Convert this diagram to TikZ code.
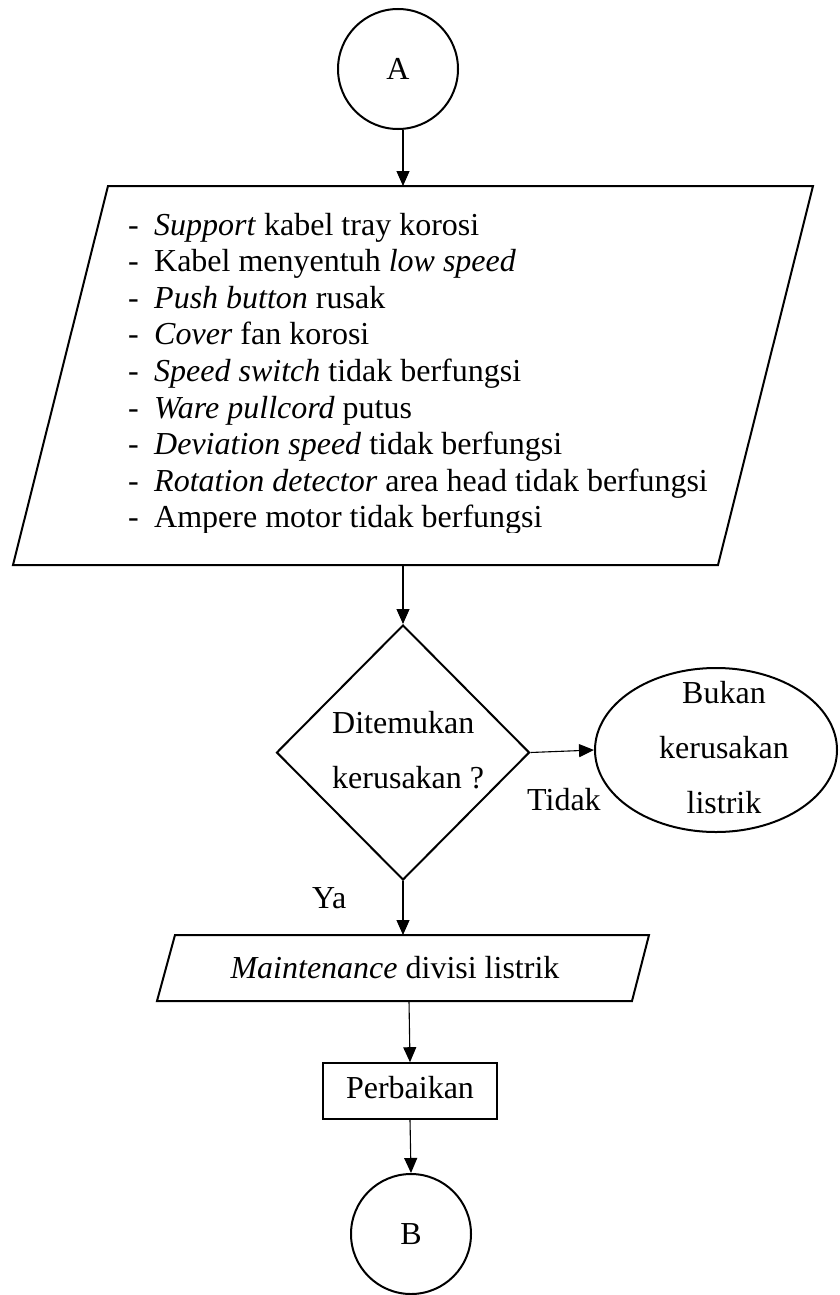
\documentclass[tikz,border=0pt]{standalone}
\usepackage{fontspec}
\setmainfont{Liberation Serif}
\usetikzlibrary{shapes.geometric,arrows.meta}
\newcommand\itemdash{\makebox[26pt][l]{-}}
\begin{document}
\begin{tikzpicture}[x=1pt,y=-1pt,
  shape line/.style={draw=black,line width=2pt,line join=miter},
  flow/.style={draw=black,line width=1.1pt,-{Triangle[length=15pt,width=13pt]}},
  txt/.style={inner sep=0pt,font=\fontsize{32}{36.6}\selectfont},
  connector/.style={circle,shape line,minimum size=120pt,inner sep=0pt,
    font=\fontsize{32}{36.6}\selectfont},
]
\useasboundingbox (0,0) rectangle (839,1295);

% off-page connector A
\node[connector] (A) at (398,69) {A};

% list of faults (data parallelogram)
\coordinate (f-tl) at (108,186);
\coordinate (f-tr) at (813,186);
\coordinate (f-br) at (718,565);
\coordinate (f-bl) at (13,565);
\coordinate (f-in) at (403,186);
\coordinate (f-out) at (403,565);
\draw[shape line] (f-tl) -- (f-tr) -- (f-br) -- (f-bl) -- cycle;

\begin{scope}
  \clip (0,186) rectangle (839,532);
  \node[txt,anchor=base west] (l1) at (128,235.0) {\itemdash\textit{Support} kabel tray korosi};
  \node[txt,anchor=base west] (l2) at (128,271.6) {\itemdash Kabel menyentuh \textit{low speed}};
  \node[txt,anchor=base west] (l3) at (128,308.2) {\itemdash\textit{Push button} rusak};
  \node[txt,anchor=base west] (l4) at (128,344.8) {\itemdash\textit{Cover} fan korosi};
  \node[txt,anchor=base west] (l5) at (128,381.4) {\itemdash\textit{Speed switch} tidak berfungsi};
  \node[txt,anchor=base west] (l6) at (128,418.0) {\itemdash\textit{Ware pullcord} putus};
  \node[txt,anchor=base west] (l7) at (128,454.6) {\itemdash\textit{Deviation speed} tidak berfungsi};
  \node[txt,anchor=base west] (l8) at (128,491.2) {\itemdash\textit{Rotation detector} area head tidak berfungsi};
  \node[txt,anchor=base west] (l9) at (128,527.8) {\itemdash Ampere motor tidak berfungsi};
\end{scope}

% decision
\node[diamond,shape line,minimum width=253pt,minimum height=255pt,inner sep=0pt] (dec) at (403,752.5) {};
\node[txt,anchor=base west] (dq1) at (332,733) {Ditemukan};
\node[txt,anchor=base west] (dq2) at (332,788) {kerusakan ?};

% not electrical
\node[ellipse,shape line,minimum width=242pt,minimum height=164pt,inner sep=0pt] (notel) at (716,750) {};
\node[txt,anchor=base] (ne1) at (724,703) {Bukan};
\node[txt,anchor=base] (ne2) at (724,758) {kerusakan};
\node[txt,anchor=base] (ne3) at (724,813) {listrik};

\node[txt,anchor=base west] (no) at (527,810) {Tidak};
\node[txt,anchor=base west] (yes) at (312,908) {Ya};

% maintenance (data parallelogram)
\coordinate (m-tl) at (175,935);
\coordinate (m-tr) at (649,935);
\coordinate (m-br) at (632,1001);
\coordinate (m-bl) at (157,1001);
\coordinate (m-in) at (403,935);
\coordinate (m-out) at (409,1001);
\draw[shape line] (m-tl) -- (m-tr) -- (m-br) -- (m-bl) -- cycle;
\node[txt,anchor=base] (mt) at (395,978) {\textit{Maintenance} divisi listrik};

% repair
\node[draw=black,line width=1.6pt,minimum width=174pt,minimum height=56pt,inner sep=0pt,
  text height=22pt,text depth=8pt,font=\fontsize{32}{36.6}\selectfont] (fix) at (410,1091) {Perbaikan};

% off-page connector B
\node[connector] (B) at (411,1234) {B};

% flow lines
\draw[flow] (A.south -| f-in) -- (f-in);
\draw[flow] (f-out) -- (dec.north);
\draw[flow] (dec.east) -- (notel.west);
\draw[flow] (dec.south) -- (m-in);
\draw[flow] (m-out) -- (fix.north);
\draw[flow] (fix.south) -- (B.north);
\end{tikzpicture}
\end{document}
